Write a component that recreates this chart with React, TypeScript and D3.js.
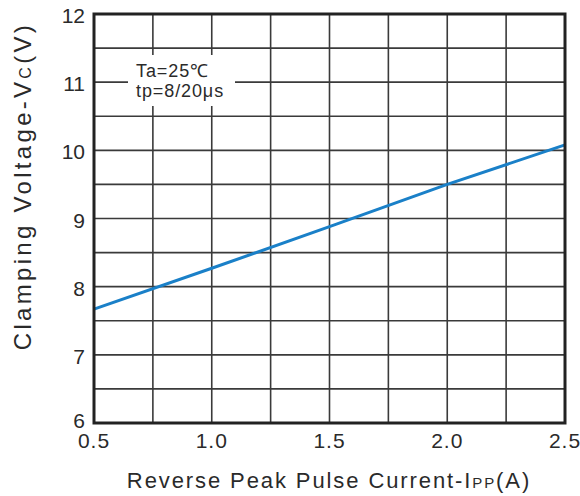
import { useEffect, useRef } from 'react'
import * as d3 from 'd3'

// curve
const currentA = [0.5, 1.0, 1.5, 2.0, 2.5]
const clampV = [7.67, 8.27, 8.88, 9.5, 10.08]

const xTicks = [0.5, 1.0, 1.5, 2.0, 2.5]
const xGrid = [0.75, 1.0, 1.25, 1.5, 1.75, 2.0, 2.25]
const yTicks = [6, 7, 8, 9, 10, 11, 12]
const yGrid = [6.5, 7, 7.5, 8, 8.5, 9, 9.5, 10, 10.5, 11, 11.5]

const W = 580
const H = 496
const FONT = '"Liberation Sans", Arial, sans-serif'

function App() {
  const ref = useRef<SVGSVGElement | null>(null)

  useEffect(() => {
    const svg = d3.select(ref.current)
    svg.selectAll('*').remove()

    const left = 94
    const right = 565
    const top = 14
    const bottom = 423

    const x = d3.scaleLinear().domain([0.5, 2.5]).range([left, right])
    const y = d3.scaleLinear().domain([6, 12]).range([bottom, top])

    svg.append('rect').attr('width', W).attr('height', H).attr('fill', '#fff')

    const grid = svg.append('g').attr('stroke', '#3a3a3a').attr('stroke-width', 1.6)
    grid
      .selectAll('line.v')
      .data(xGrid)
      .join('line')
      .attr('x1', (d) => x(d))
      .attr('x2', (d) => x(d))
      .attr('y1', top)
      .attr('y2', bottom)
    grid
      .selectAll('line.h')
      .data(yGrid)
      .join('line')
      .attr('x1', left)
      .attr('x2', right)
      .attr('y1', (d) => y(d))
      .attr('y2', (d) => y(d))

    // note box covers the grid
    svg.append('rect').attr('x', 128).attr('y', 55).attr('width', 107).attr('height', 51).attr('fill', '#fff')
    const note = svg
      .append('text')
      .attr('font-family', FONT)
      .attr('font-size', 18)
      .attr('letter-spacing', 0.9)
      .attr('fill', '#2a2a2a')
    note.append('tspan').attr('x', 136).attr('y', 77).text('Ta=25℃')
    note.append('tspan').attr('x', 136).attr('y', 97).text('tp=8/20μs')

    const line = d3
      .line<number>()
      .x((d, i) => x(currentA[i]))
      .y((d) => y(d))
    svg
      .append('path')
      .attr('d', line(clampV))
      .attr('fill', 'none')
      .attr('stroke', '#1a80c8')
      .attr('stroke-width', 3)

    svg
      .append('rect')
      .attr('x', left)
      .attr('y', top)
      .attr('width', right - left)
      .attr('height', bottom - top)
      .attr('fill', 'none')
      .attr('stroke', '#222')
      .attr('stroke-width', 3)

    svg
      .append('g')
      .selectAll('text')
      .data(xTicks)
      .join('text')
      .attr('x', (d) => x(d))
      .attr('y', 448)
      .attr('text-anchor', 'middle')
      .attr('font-family', FONT)
      .attr('font-size', 21)
      .attr('letter-spacing', 1)
      .attr('fill', '#2a2a2a')
      .text((d) => d.toFixed(1))

    svg
      .append('g')
      .selectAll('text')
      .data(yTicks)
      .join('text')
      .attr('x', 85)
      .attr('y', (d) => y(d) + (d === 6 ? 5 : 9))
      .attr('text-anchor', 'end')
      .attr('font-family', FONT)
      .attr('font-size', 21)
      .attr('fill', '#2a2a2a')
      .text((d) => d)

    const xt = svg
      .append('text')
      .attr('x', 329)
      .attr('y', 488)
      .attr('text-anchor', 'middle')
      .attr('font-family', FONT)
      .attr('font-size', 22)
      .attr('letter-spacing', 1.9)
      .attr('fill', '#2a2a2a')
    xt.append('tspan').text('Reverse Peak Pulse Current-I')
    xt.append('tspan').attr('font-size', 15).text('PP')
    xt.append('tspan').text('(A)')

    const yt = svg
      .append('text')
      .attr('transform', `translate(31,186) rotate(-90)`)
      .attr('text-anchor', 'middle')
      .attr('font-family', FONT)
      .attr('font-size', 24)
      .attr('letter-spacing', 3.3)
      .attr('fill', '#2a2a2a')
    yt.append('tspan').text('Clamping Voltage-V')
    yt.append('tspan').attr('font-size', 16).text('C')
    yt.append('tspan').text('(V)')
  }, [])

  return <svg ref={ref} width={W} height={H} style={{ position: 'absolute', left: 0, top: 0 }} />
}

export default App
